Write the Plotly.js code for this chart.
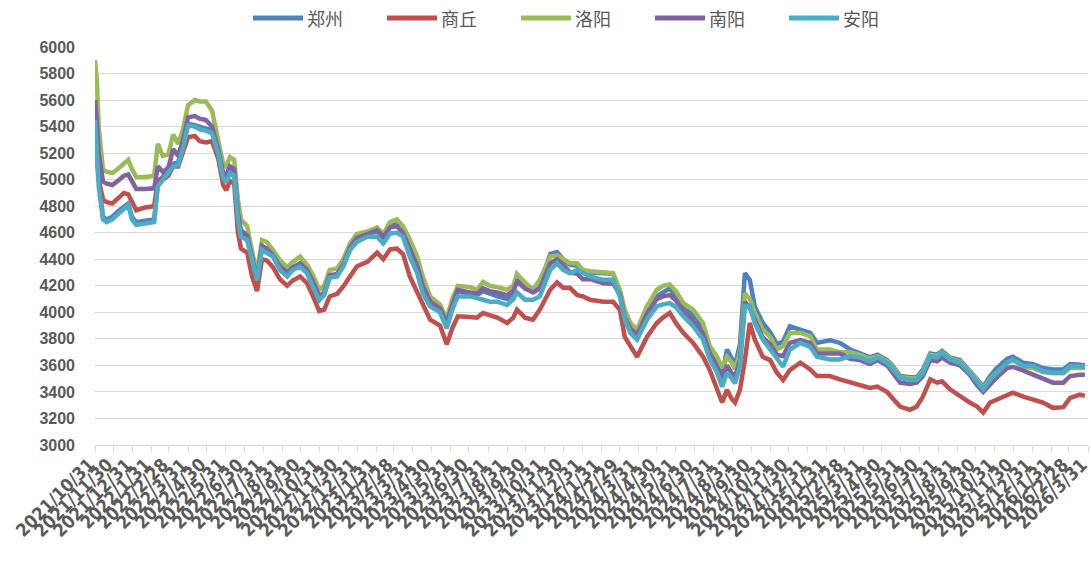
<!DOCTYPE html>
<html>
<head>
<meta charset="utf-8">
<script src="https://cdn.plot.ly/plotly-3.0.1.min.js"></script>
<style>html,body{margin:0;padding:0;background:#fff;}#chart{width:1091px;height:562px;}</style>
</head>
<body>
<div id="chart"></div>
<script>
// ---- data ----
const dates = [
"2021-10-31","2021-11-03","2021-11-06","2021-11-13","2021-11-19","2021-11-28","2021-12-07","2021-12-17","2021-12-24","2021-12-30",
"2022-01-06","2022-01-20","2022-02-04","2022-02-10","2022-02-18","2022-02-27","2022-03-07","2022-03-15","2022-03-23","2022-03-31",
"2022-04-11","2022-04-19","2022-04-29","2022-05-09","2022-05-19","2022-05-27","2022-06-01","2022-06-07","2022-06-14","2022-06-20",
"2022-06-25","2022-07-05","2022-07-13","2022-07-21","2022-07-29","2022-08-06","2022-08-16","2022-08-27","2022-09-08","2022-09-17",
"2022-09-29","2022-10-10","2022-10-20","2022-10-30","2022-11-07","2022-11-16","2022-11-28","2022-12-08","2022-12-19","2022-12-30",
"2023-01-16","2023-02-01","2023-02-11","2023-02-22","2023-03-05","2023-03-15","2023-03-26","2023-04-07","2023-04-16","2023-04-28",
"2023-05-14","2023-05-25","2023-06-03","2023-06-12","2023-07-02","2023-07-13","2023-07-23","2023-08-03","2023-08-15","2023-08-31",
"2023-09-10","2023-09-16","2023-09-29","2023-10-12","2023-10-23","2023-11-09","2023-11-20","2023-11-30","2023-12-11","2023-12-23",
"2024-01-01","2024-01-13","2024-02-03","2024-02-19","2024-03-01","2024-03-09","2024-03-18","2024-03-29","2024-04-14","2024-04-30",
"2024-05-10","2024-05-21","2024-05-31","2024-06-12","2024-06-28","2024-07-14","2024-07-25","2024-08-06","2024-08-14","2024-08-22",
"2024-08-30","2024-09-04","2024-09-12","2024-09-20","2024-09-28","2024-10-06","2024-10-19","2024-10-31","2024-11-11","2024-11-21",
"2024-12-02","2024-12-19","2025-01-04","2025-01-15","2025-02-05","2025-02-21","2025-03-10","2025-03-26","2025-04-11","2025-04-23",
"2025-05-09","2025-05-19","2025-05-30","2025-06-15","2025-06-26","2025-07-06","2025-07-18","2025-07-29","2025-08-06","2025-08-19",
"2025-09-04","2025-09-20","2025-10-02","2025-10-12","2025-10-23","2025-11-03","2025-11-20","2025-11-29","2025-12-16","2026-01-01",
"2026-01-17","2026-02-02","2026-02-19","2026-03-02","2026-03-18","2026-03-26"
];

const zhengzhou = [
5550,5350,5000,4720,4700,4720,4760,4800,4820,4720,
4680,4690,4700,4980,5020,5080,5120,5130,5260,5420,
5410,5400,5390,5370,5230,5020,4990,5070,5050,4720,
4590,4560,4390,4260,4490,4470,4430,4340,4290,4330,
4360,4310,4210,4110,4140,4270,4280,4350,4480,4550,
4590,4610,4560,4650,4690,4620,4480,4340,4190,4070,
4020,3900,4040,4160,4140,4130,4160,4140,4120,4100,
4150,4280,4180,4160,4200,4440,4455,4400,4360,4350,
4310,4300,4290,4290,4160,3990,3880,3840,4000,4120,
4150,4180,4120,4030,3980,3880,3720,3620,3530,3720,
3650,3600,3760,4295,4245,4045,3920,3850,3760,3780,
3895,3870,3845,3770,3790,3770,3720,3690,3660,3680,
3640,3590,3520,3510,3510,3570,3690,3680,3710,3660,
3640,3560,3490,3440,3520,3580,3650,3665,3620,3610,
3580,3570,3570,3610,3605,3600
];

const shangqiu = [
5350,5150,5000,4850,4830,4820,4860,4900,4890,4830,
4770,4790,4800,5000,5000,5030,5100,5100,5200,5320,
5330,5290,5280,5290,5160,4960,4920,4990,4970,4600,
4480,4450,4270,4160,4400,4390,4340,4250,4200,4240,
4270,4220,4120,4010,4020,4120,4140,4195,4270,4345,
4380,4450,4400,4475,4480,4440,4270,4150,4045,3945,
3900,3760,3880,3970,3965,3960,3995,3975,3960,3920,
3960,4020,3960,3945,4020,4170,4225,4185,4185,4130,
4120,4095,4080,4080,4020,3815,3740,3665,3815,3920,
3960,3995,3920,3845,3770,3665,3565,3415,3320,3415,
3345,3320,3415,3640,3920,3795,3665,3640,3545,3490,
3565,3620,3570,3520,3520,3495,3470,3445,3430,3440,
3400,3345,3290,3265,3290,3365,3495,3470,3480,3420,
3365,3320,3290,3245,3320,3345,3380,3395,3365,3345,
3320,3280,3285,3355,3380,3370
];

const luoyang = [
5900,5750,5400,5075,5060,5050,5080,5120,5150,5080,
5020,5020,5030,5270,5180,5190,5340,5270,5380,5560,
5600,5590,5590,5520,5280,5120,5100,5170,5150,4850,
4700,4650,4460,4300,4545,4530,4470,4395,4340,4380,
4420,4360,4280,4170,4200,4320,4330,4400,4520,4590,
4610,4640,4590,4680,4700,4650,4550,4420,4270,4120,
4060,3950,4100,4200,4190,4170,4230,4200,4190,4170,
4200,4290,4225,4170,4245,4420,4430,4400,4370,4370,
4320,4310,4305,4295,4170,4020,3920,3870,4045,4170,
4200,4210,4160,4070,4020,3920,3745,3665,3580,3665,
3620,3570,3700,4145,4100,3995,3870,3815,3720,3745,
3845,3845,3820,3720,3720,3700,3700,3680,3650,3670,
3630,3580,3510,3500,3500,3555,3680,3670,3700,3655,
3630,3555,3480,3430,3500,3550,3620,3640,3590,3580,
3550,3540,3540,3580,3580,3580
];

const nanyang = [
5600,5450,5200,4985,4970,4960,4990,5030,5040,4980,
4930,4930,4935,5100,5060,5090,5230,5180,5300,5470,
5480,5460,5450,5400,5230,5050,5030,5100,5080,4750,
4620,4580,4400,4250,4500,4480,4430,4350,4300,4340,
4370,4320,4230,4120,4150,4280,4290,4360,4490,4560,
4590,4620,4570,4640,4650,4600,4480,4350,4200,4080,
4030,3920,4060,4170,4150,4140,4180,4160,4150,4130,
4160,4230,4180,4150,4180,4370,4400,4360,4300,4290,
4250,4250,4220,4215,4140,3960,3880,3830,3990,4100,
4120,4130,4090,4010,3940,3840,3690,3590,3500,3600,
3540,3510,3640,4080,4030,3950,3810,3760,3680,3670,
3770,3790,3770,3690,3690,3690,3650,3640,3610,3640,
3600,3540,3470,3460,3470,3520,3640,3630,3660,3620,
3600,3530,3450,3400,3460,3510,3580,3590,3560,3530,
3500,3470,3470,3520,3530,3530
];

const anyang = [
5450,5250,4950,4700,4680,4700,4740,4790,4810,4700,
4660,4670,4680,4950,5000,5060,5100,5110,5240,5410,
5400,5380,5370,5350,5200,5010,4980,5050,5030,4700,
4570,4545,4375,4240,4470,4450,4420,4320,4270,4320,
4345,4295,4195,4090,4130,4260,4270,4345,4470,4530,
4570,4570,4520,4595,4600,4570,4420,4295,4145,4045,
4000,3880,4020,4120,4120,4110,4095,4080,4080,4055,
4100,4150,4095,4095,4120,4320,4370,4320,4295,4320,
4295,4270,4245,4245,4120,3945,3845,3795,3945,4045,
4060,4070,4040,3970,3895,3795,3645,3545,3440,3545,
3500,3465,3590,4045,4045,3920,3795,3720,3645,3590,
3720,3770,3740,3665,3645,3645,3670,3660,3630,3660,
3620,3570,3505,3490,3490,3545,3670,3660,3695,3645,
3620,3545,3470,3420,3490,3545,3620,3645,3595,3595,
3555,3545,3545,3595,3590,3590
];

const seriesNames = ["郑州","商丘","洛阳","南阳","安阳"];
const seriesColors = ["#4F81BD","#C0504D","#9BBB59","#8064A2","#4BACC6"];
const seriesValues = [zhengzhou, shangqiu, luoyang, nanyang, anyang];

// x-axis tick dates (month ends) and their labels
const tickDates = [
"2021-10-31","2021-11-30","2021-12-31","2022-01-31","2022-02-28","2022-03-31","2022-04-30","2022-05-31","2022-06-30","2022-07-31","2022-08-31","2022-09-30",
"2022-10-31","2022-11-30","2022-12-31","2023-01-31","2023-02-28","2023-03-31","2023-04-30","2023-05-31","2023-06-30","2023-07-31","2023-08-31","2023-09-30",
"2023-10-31","2023-11-30","2023-12-31","2024-01-31","2024-02-29","2024-03-31","2024-04-30","2024-05-31","2024-06-30","2024-07-31","2024-08-31","2024-09-30",
"2024-10-31","2024-11-30","2024-12-31","2025-01-31","2025-02-28","2025-03-31","2025-04-30","2025-05-31","2025-06-30","2025-07-31","2025-08-31","2025-09-30",
"2025-10-31","2025-11-30","2025-12-31","2026-01-31","2026-02-28","2026-03-31"
];
const tickLabels = tickDates.map(d => {
  const p = d.split("-");
  return p[0] + "/" + parseInt(p[1], 10) + "/" + parseInt(p[2], 10);
});

const traces = seriesNames.map((n, i) => ({
  type: "scatter",
  mode: "lines",
  name: n,
  x: dates,
  y: seriesValues[i],
  line: {color: seriesColors[i], width: 4.5}
}));

// plot-area geometry (pixels) used for paper-coordinate placement of legend
const W = 1091, H = 562, ML = 95, MR = 3, MT = 47, MB = 117;
const PW = W - ML - MR, PH = H - MT - MB;
const px2paperX = px => (px - ML) / PW;
const py2paperY = py => (H - MB - py) / PH;

const shapes = [];
const annotations = [];

// custom legend: long line samples + text, centred above the plot
const legendStart = 253, legendStep = 134, legendLine = 50, legendY = 18;
seriesNames.forEach((n, i) => {
  const x0 = legendStart + i * legendStep;
  shapes.push({
    type: "line", xref: "paper", yref: "paper",
    x0: px2paperX(x0), x1: px2paperX(x0 + legendLine),
    y0: py2paperY(legendY), y1: py2paperY(legendY),
    line: {color: seriesColors[i], width: 5}
  });
  annotations.push({
    xref: "paper", yref: "paper",
    x: px2paperX(x0 + legendLine + 2), y: py2paperY(legendY),
    xanchor: "left", yanchor: "middle",
    text: n, showarrow: false,
    font: {family: "Noto Sans CJK SC, sans-serif", size: 18, color: "#595959"}
  });
});

// rotated, overlapping date labels (every month end), as in the original
tickDates.forEach((d, i) => {
  annotations.push({
    xref: "x", yref: "paper",
    x: d, y: 0,
    xanchor: "right", yanchor: "top",
    xshift: 6, yshift: -6,
    textangle: -45,
    text: tickLabels[i], showarrow: false,
    font: {family: "Liberation Sans Narrow, DejaVu Sans Condensed, Liberation Sans, sans-serif", size: 18, color: "#595959", weight: "bold"}
  });
});

const layout = {
  width: W,
  height: H,
  margin: {l: ML, r: MR, t: MT, b: MB, autoexpand: false},
  paper_bgcolor: "#ffffff",
  plot_bgcolor: "#ffffff",
  showlegend: false,
  shapes: shapes,
  annotations: annotations,
  xaxis: {
    type: "date",
    range: ["2021-10-31", "2026-03-31"],
    tickmode: "array",
    tickvals: tickDates,
    ticktext: tickLabels,
    showticklabels: false,
    ticks: "outside",
    ticklen: 6,
    tickcolor: "#D9D9D9",
    showline: true,
    linecolor: "#D9D9D9",
    linewidth: 1,
    showgrid: false,
    zeroline: false,
    automargin: false
  },
  yaxis: {
    range: [3000, 6000],
    dtick: 200,
    tick0: 3000,
    showgrid: true,
    gridcolor: "#D9D9D9",
    gridwidth: 1,
    zeroline: false,
    showline: false,
    ticks: "",
    automargin: false,
    ticklabelstandoff: 19,
    tickfont: {family: "Liberation Sans, Arial, sans-serif", size: 16, color: "#595959", weight: "bold"}
  },
  hovermode: false
};

Plotly.newPlot("chart", traces, layout, {staticPlot: true, displayModeBar: false});
</script>
</body>
</html>
